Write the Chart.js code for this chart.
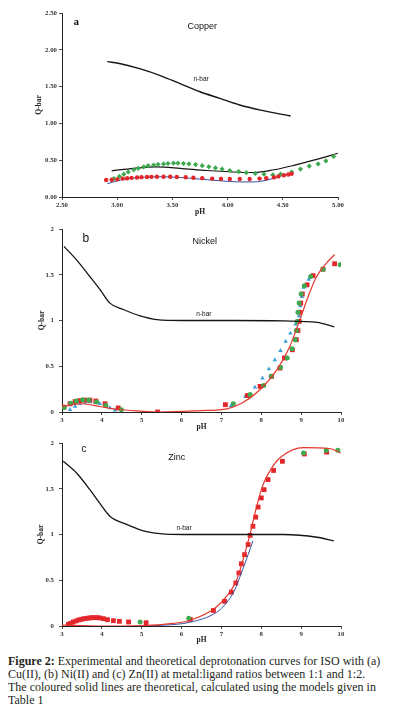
<!DOCTYPE html>
<html>
<head>
<meta charset="utf-8">
<script src="https://cdn.jsdelivr.net/npm/chart.js@4.4.1/dist/chart.umd.min.js"></script>
<style>
  body { margin: 0; background: #fff; width: 397px; height: 721px; overflow: hidden; position: relative; }
  canvas { position: absolute; left: 0; }
  #chartA { top: 0; }
  #chartB { top: 220px; }
  #chartC { top: 435px; }
  .caption { position: absolute; left: 8px; top: 655px; font-family: "Liberation Serif", "DejaVu Serif", serif;
             font-size: 13px; line-height: 12.9px; color: #231f20; }
  .caption div { white-space: nowrap; transform-origin: 0 0; }
</style>
</head>
<body>
<canvas id="chartA" width="397" height="220"></canvas>
<canvas id="chartB" width="397" height="215"></canvas>
<canvas id="chartC" width="397" height="213"></canvas>
<div class="caption">
  <div class="ln"><b>Figure 2:</b> Experimental and theoretical deprotonation curves for ISO with (a)</div>
  <div class="ln">Cu(II), (b) Ni(II) and (c) Zn(II) at metal:ligand ratios between 1:1 and 1:2.</div>
  <div class="ln">The coloured solid lines are theoretical, calculated using the models given in</div>
  <div class="last">Table 1</div>
</div>
<script>
// (a) Copper
const cuNbarPH = [2.91, 3.03, 3.21, 3.39, 3.57, 3.75, 3.93, 4.11, 4.30, 4.57];
const cuNbarQ  = [1.84, 1.81, 1.74, 1.65, 1.54, 1.43, 1.34, 1.25, 1.18, 1.10];
const cuBlackPH = [2.95, 3.15, 3.36, 3.57, 3.81, 4.05, 4.24, 4.42, 4.60, 4.78, 5.00];
const cuBlackQ  = [0.355, 0.39, 0.41, 0.39, 0.36, 0.34, 0.333, 0.37, 0.43, 0.50, 0.595];
const cuBluePH = [2.91, 3.03, 3.21, 3.39, 3.57, 3.75, 3.93, 4.11, 4.24, 4.36, 4.48, 4.55];
const cuBlueQ  = [0.18, 0.23, 0.265, 0.275, 0.265, 0.243, 0.22, 0.205, 0.205, 0.23, 0.285, 0.31];
const cuRedPH = [2.90, 2.95, 3.00, 3.05, 3.09, 3.13, 3.18, 3.22, 3.27, 3.31, 3.36, 3.42, 3.48, 3.54, 3.62,
                 3.69, 3.77, 3.86, 3.94, 4.02, 4.11, 4.20, 4.29, 4.35, 4.42, 4.46, 4.51, 4.55, 4.58];
const cuRedQ  = [0.23, 0.235, 0.24, 0.25, 0.255, 0.26, 0.265, 0.27, 0.272, 0.274, 0.275, 0.275, 0.275, 0.272, 0.268,
                 0.262, 0.256, 0.25, 0.246, 0.244, 0.244, 0.245, 0.25, 0.256, 0.266, 0.28, 0.295, 0.305, 0.315];
const cuGreenPH = [2.97, 3.02, 3.06, 3.10, 3.15, 3.19, 3.24, 3.28, 3.33, 3.37, 3.42, 3.46, 3.51, 3.55, 3.60, 3.65, 3.71,
                   3.77, 3.83, 3.89, 3.95, 4.02, 4.10, 4.17, 4.25, 4.33, 4.41, 4.48, 4.58, 4.66, 4.74, 4.82, 4.89, 4.96];
const cuGreenQ  = [0.25, 0.28, 0.31, 0.34, 0.37, 0.39, 0.41, 0.425, 0.435, 0.445, 0.45, 0.455, 0.46, 0.46, 0.455, 0.45, 0.44,
                   0.425, 0.41, 0.395, 0.38, 0.36, 0.345, 0.33, 0.32, 0.31, 0.30, 0.31, 0.34, 0.38, 0.42, 0.45, 0.49, 0.55];

// (b) Nickel
const niNbarPH = [3.05, 3.37, 3.70, 3.95, 4.20, 4.54, 4.96, 5.38, 6.05, 7.30, 8.56, 9.40, 9.83];
const niNbarQ  = [1.81, 1.66, 1.48, 1.34, 1.19, 1.12, 1.05, 1.01, 1.00, 1.00, 0.995, 0.98, 0.93];
const niFitPH = [3.0, 3.5, 3.95, 4.37, 4.96, 5.46, 6.47, 7.14, 7.53, 7.96, 8.39, 8.71, 8.96, 9.21, 9.39, 9.64, 9.84];
const niFitQ  = [0.06, 0.09, 0.06, 0.03, 0.01, 0.0, 0.015, 0.035, 0.1, 0.24, 0.46, 0.71, 1.0, 1.30, 1.48, 1.63, 1.72];
const niRedPH = [3.03, 3.20, 3.33, 3.45, 3.58, 3.70, 3.85, 4.08, 4.41, 5.40, 7.10, 7.65, 7.97, 8.26, 8.47, 8.58,
                 8.78, 8.88, 8.92, 8.95, 8.97, 8.99, 9.03, 9.15, 9.30, 9.55, 9.84];
const niRedQ  = [0.055, 0.09, 0.115, 0.125, 0.13, 0.13, 0.12, 0.09, 0.044, 0.0, 0.08, 0.18, 0.28, 0.39, 0.48, 0.59,
                 0.68, 0.79, 0.89, 0.99, 1.09, 1.19, 1.29, 1.39, 1.49, 1.56, 1.62];
const niGreenPH = [3.06, 3.22, 3.36, 3.52, 3.67, 3.87, 4.10, 4.49, 7.30, 7.72, 8.06, 8.25, 8.48, 8.65, 8.77, 8.85,
                   8.88, 8.90, 8.92, 8.95, 9.00, 9.08, 9.24, 9.55, 9.98];
const niGreenQ  = [0.05, 0.095, 0.12, 0.135, 0.13, 0.11, 0.07, 0.025, 0.09, 0.19, 0.29, 0.39, 0.49, 0.59, 0.69, 0.79,
                   0.89, 0.99, 1.09, 1.19, 1.29, 1.38, 1.48, 1.56, 1.61];
const niBluePH = [3.20, 3.33, 3.45, 3.58, 3.70, 3.83, 3.95, 4.08, 4.20, 4.33, 7.24, 7.60, 7.84, 8.03, 8.19, 8.34,
                  8.48, 8.61, 8.73, 8.86, 8.95, 8.98, 9.02, 9.06, 9.19];
const niBlueQ  = [0.025, 0.06, 0.09, 0.105, 0.11, 0.105, 0.09, 0.07, 0.045, 0.02, 0.066, 0.17, 0.27, 0.37, 0.47, 0.57,
                  0.67, 0.77, 0.86, 0.96, 1.05, 1.16, 1.26, 1.36, 1.45];

// (c) Zinc
const znNbarPH = [3.03, 3.37, 3.70, 3.95, 4.20, 4.62, 5.04, 5.46, 6.05, 8.56, 9.40, 9.82];
const znNbarQ  = [1.80, 1.67, 1.49, 1.34, 1.20, 1.11, 1.04, 1.01, 1.00, 1.00, 0.97, 0.93];
const znFitPH = [3.0, 3.5, 4.0, 4.5, 5.1, 5.6, 6.2, 6.85, 7.12, 7.38, 7.54, 7.71, 7.88, 8.04, 8.25, 8.5, 9.06, 9.71, 10.0];
const znFitQ  = [0.01, 0.005, 0.0, 0.0, 0.005, 0.02, 0.06, 0.2, 0.32, 0.50, 0.72, 0.99, 1.30, 1.54, 1.72, 1.85, 1.95, 1.94, 1.89];
const znBluePH = [5.0, 5.6, 6.2, 6.88, 7.12, 7.33, 7.50, 7.67, 7.79];
const znBlueQ  = [0.0, 0.01, 0.04, 0.15, 0.25, 0.39, 0.58, 0.78, 0.93];
const znRedPH = [3.16, 3.22, 3.28, 3.35, 3.42, 3.49, 3.55, 3.62, 3.69, 3.75, 3.82, 3.89, 3.95, 4.04, 4.14, 4.29, 4.44,
                 4.67, 5.11, 6.22, 6.80, 7.08, 7.25, 7.36, 7.44, 7.50, 7.58, 7.67, 7.72, 7.79, 7.86, 7.92, 8.00,
                 8.07, 8.17, 8.31, 8.53, 9.08, 9.64];
const znRedQ  = [0.018, 0.029, 0.044, 0.055, 0.066, 0.073, 0.08, 0.084, 0.088, 0.091, 0.091, 0.091, 0.088, 0.08, 0.069,
                 0.058, 0.051, 0.044, 0.036, 0.072, 0.17, 0.27, 0.37, 0.47, 0.58, 0.68, 0.78, 0.89, 0.99, 1.09, 1.19,
                 1.30, 1.40, 1.49, 1.60, 1.70, 1.80, 1.88, 1.90];
const znGreenPH = [4.96, 6.18, 9.06, 9.63, 9.92];
const znGreenQ  = [0.044, 0.085, 1.89, 1.92, 1.92];

const BLACK = '#151515', RED = '#e2262b', REDLINE = '#e5372c', GREEN = '#3daa4f', CYAN = '#3c9fd8', NAVY = '#3450a2';

function pts(xs, ys) {
  return xs.map((x, i) => ({ x: x, y: ys[i] }));
}

function lineSet(xs, ys, color, width) {
  return { data: pts(xs, ys), showLine: true, borderColor: color, borderWidth: width, pointRadius: 0,
           cubicInterpolationMode: 'monotone', fill: false };
}

function dotSet(xs, ys, color, style, r) {
  return { data: pts(xs, ys), showLine: false, pointStyle: style, pointRadius: r,
           backgroundColor: color, borderColor: color, borderWidth: 0 };
}

// texte libre dans le graphique (lettre, métal, n-bar)
const panelText = {
  id: 'panelText',
  afterDraw(chart, args, opts) {
    const ctx = chart.ctx;
    const sx = chart.scales.x, sy = chart.scales.y;
    ctx.save();
    ctx.fillStyle = '#111';
    ctx.textAlign = 'center';
    ctx.textBaseline = 'middle';
    opts.items.forEach(t => {
      ctx.font = t.font;
      ctx.fillText(t.text, sx.getPixelForValue(t.x), sy.getPixelForValue(t.y));
    });
    ctx.restore();
  }
};

const tickFont = { family: 'Liberation Serif', size: 6.8, weight: 'bold' };
const titleFont = { family: 'Liberation Serif', size: 7.5, weight: 'bold' };

function makeChart(id, p) {
  return new Chart(document.getElementById(id), {
    type: 'scatter',
    data: { datasets: p.datasets },
    plugins: [panelText],
    options: {
      responsive: false,
      animation: false,
      devicePixelRatio: 1,
      layout: { padding: { left: 0, right: p.padRight, top: p.padTop, bottom: 0 } },
      plugins: { legend: { display: false }, tooltip: { enabled: false }, panelText: { items: p.texts } },
      scales: {
        x: {
          type: 'linear', min: p.xMin, max: p.xMax,
          grid: { drawOnChartArea: false, tickLength: 3, color: '#222', lineWidth: 0.8 },
          border: { color: '#222', width: 1 },
          ticks: { stepSize: p.xStep, color: '#333', font: tickFont, padding: 1, maxRotation: 0,
                   callback: p.xFmt },
          title: { display: true, text: 'pH', color: '#222', font: titleFont, padding: { top: 0, bottom: 3 } },
          afterFit(s) { s.height = p.xHeight; s.paddingLeft = 0; s.paddingRight = 0; }
        },
        y: {
          type: 'linear', min: 0, max: p.yMax,
          grid: { drawOnChartArea: false, tickLength: 3, color: '#222', lineWidth: 0.8 },
          border: { color: '#222', width: 1 },
          ticks: { stepSize: 0.5, color: '#333', font: tickFont, padding: p.yTickPad, callback: p.yFmt },
          title: { display: true, text: 'Q-bar', color: '#222', font: titleFont, padding: { top: p.yTitlePad, bottom: 0 } },
          afterFit(s) { s.width = 62; s.paddingTop = 0; s.paddingBottom = 0; }
        }
      }
    }
  });
}

makeChart('chartA', {
  xMin: 2.5, xMax: 5.0, xStep: 0.5, yMax: 2.5, padRight: 59, padTop: 13, xHeight: 23, yTickPad: 2, yTitlePad: 35,
  xFmt: v => v.toFixed(2), yFmt: v => v.toFixed(2),
  texts: [
    { text: 'a', x: 2.63, y: 2.38, font: 'bold 11px "Liberation Serif"' },
    { text: 'Copper', x: 3.77, y: 2.32, font: '9px "Liberation Sans"' },
    { text: 'n-bar', x: 3.76, y: 1.60, font: '6.5px "Liberation Sans"' }
  ],
  datasets: [
    lineSet(cuNbarPH, cuNbarQ, BLACK, 1.4),
    dotSet(cuRedPH, cuRedQ, RED, 'circle', 2.2),
    dotSet(cuGreenPH, cuGreenQ, GREEN, 'rectRot', 2.6),
    lineSet(cuBlackPH, cuBlackQ, BLACK, 1.2),
    lineSet(cuBluePH, cuBlueQ, NAVY, 1)
  ]
});

makeChart('chartB', {
  xMin: 3, xMax: 10, xStep: 1, yMax: 2, padRight: 56, padTop: 9, xHeight: 23, yTickPad: 5, yTitlePad: 38,
  xFmt: v => v, yFmt: v => v,
  texts: [
    { text: 'b', x: 3.60, y: 1.89, font: '12px "Liberation Sans"' },
    { text: 'Nickel', x: 6.58, y: 1.86, font: '9px "Liberation Sans"' },
    { text: 'n-bar', x: 6.56, y: 1.07, font: '6.5px "Liberation Sans"' }
  ],
  datasets: [
    lineSet(niNbarPH, niNbarQ, BLACK, 1.3),
    lineSet(niFitPH, niFitQ, REDLINE, 1.2),
    dotSet(niGreenPH, niGreenQ, GREEN, 'circle', 2.5),
    dotSet(niRedPH, niRedQ, RED, 'rect', 3.4),
    dotSet(niBluePH, niBlueQ, CYAN, 'triangle', 2.6)
  ]
});

makeChart('chartC', {
  xMin: 3, xMax: 10, xStep: 1, yMax: 2, padRight: 56, padTop: 8, xHeight: 22, yTickPad: 5, yTitlePad: 37,
  xFmt: v => v, yFmt: v => v,
  texts: [
    { text: 'c', x: 3.55, y: 1.93, font: '10px "Liberation Sans"' },
    { text: 'Zinc', x: 5.88, y: 1.84, font: '9px "Liberation Sans"' },
    { text: 'n-bar', x: 6.06, y: 1.07, font: '6.5px "Liberation Sans"' }
  ],
  datasets: [
    lineSet(znNbarPH, znNbarQ, BLACK, 1.3),
    lineSet(znFitPH, znFitQ, REDLINE, 1.2),
    lineSet(znBluePH, znBlueQ, NAVY, 1),
    dotSet(znGreenPH, znGreenQ, GREEN, 'circle', 2.5),
    dotSet(znRedPH, znRedQ, RED, 'rect', 3.4)
  ]
});

// ajuster chaque ligne de la légende à la largeur de la colonne
const lines = document.querySelectorAll('.caption .ln');
let k = 1;
lines.forEach(el => {
  k = 372 / el.scrollWidth;
  el.style.transform = 'scaleX(' + k + ')';
});
document.querySelector('.caption .last').style.transform = 'scaleX(' + k + ')';
</script>
</body>
</html>
